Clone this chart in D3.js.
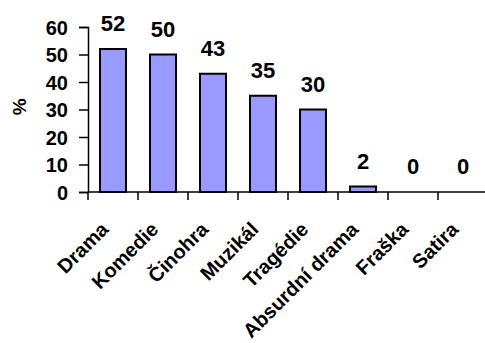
<!DOCTYPE html>
<html>
<head>
<meta charset="utf-8">
<script src="https://cdn.jsdelivr.net/npm/d3@7"></script>
<style>
  body { margin: 0; background: #fff; }
  text { font-family: "Liberation Sans", Arial, sans-serif; font-weight: bold; fill: #000; }
</style>
</head>
<body>
<div id="chart"></div>
<script>
var svgWidth = 485;
var svgHeight = 343;

// data
var genres = ["Drama", "Komedie", "Činohra", "Muzikál", "Tragédie", "Absurdní drama", "Fraška", "Satira"];
var shares = [52, 50, 43, 35, 30, 2, 0, 0];
var yTicks = [0, 10, 20, 30, 40, 50, 60];

var margin = { top: 27, left: 88, bottom: 151 };
var plotHeight = svgHeight - margin.top - margin.bottom;

var svg = d3.select("#chart")
  .append("svg")
  .attr("width", svgWidth)
  .attr("height", svgHeight);

var x = d3.scaleBand()
  .domain(genres)
  .range([margin.left, margin.left + 400])
  .paddingInner(0.48)
  .paddingOuter(0.24);

var y = d3.scaleLinear()
  .domain([0, 60])
  .range([margin.top + plotHeight, margin.top]);

var baseY = y(0);

// bars
svg.selectAll("rect.bar")
  .data(shares)
  .enter()
  .append("rect")
  .attr("class", "bar")
  .attr("x", (d, i) => x(genres[i]))
  .attr("y", d => y(d))
  .attr("width", x.bandwidth())
  .attr("height", d => baseY - y(d))
  .attr("fill", "#9999ff")
  .attr("stroke", "#000")
  .attr("stroke-width", 2);

// value labels
svg.selectAll("text.value")
  .data(shares)
  .enter()
  .append("text")
  .attr("class", "value")
  .attr("x", (d, i) => x(genres[i]) + x.bandwidth() / 2)
  .attr("y", d => y(d) - 18)
  .attr("text-anchor", "middle")
  .style("font-size", "22px")
  .text(d => d);

// y axis
var yAxis = svg.append("g")
  .attr("transform", `translate(${margin.left}, 0)`)
  .call(d3.axisLeft(y).tickValues(yTicks).tickSize(9).tickPadding(11));
yAxis.selectAll("text").style("font-size", "20px").attr("dy", "0.36em");
yAxis.selectAll("line, path").attr("stroke", "#000").attr("stroke-width", 1.5);

// x axis line and ticks at the band edges
var step = x.step();
var edges = d3.range(genres.length + 1).map(i => margin.left + i * step);

svg.append("line")
  .attr("x1", margin.left)
  .attr("x2", svgWidth)
  .attr("y1", baseY)
  .attr("y2", baseY)
  .attr("stroke", "#000")
  .attr("stroke-width", 1.5);

svg.selectAll("line.xtick")
  .data(edges)
  .enter()
  .append("line")
  .attr("class", "xtick")
  .attr("x1", d => d)
  .attr("x2", d => d)
  .attr("y1", baseY)
  .attr("y2", baseY + 8)
  .attr("stroke", "#000")
  .attr("stroke-width", 1.5);

// category labels
svg.selectAll("text.cat")
  .data(genres)
  .enter()
  .append("text")
  .attr("class", "cat")
  .attr("transform", d => `translate(${x(d) + x.bandwidth() / 2 - 14}, ${baseY + 28}) rotate(-45)`)
  .attr("text-anchor", "end")
  .attr("dy", "0.75em")
  .style("font-size", "20px")
  .text(d => d);

// y title
svg.append("text")
  .attr("transform", `translate(19, ${y(31)}) rotate(-90)`)
  .attr("text-anchor", "middle")
  .attr("dy", "0.35em")
  .style("font-size", "19px")
  .text("%");
</script>
</body>
</html>
